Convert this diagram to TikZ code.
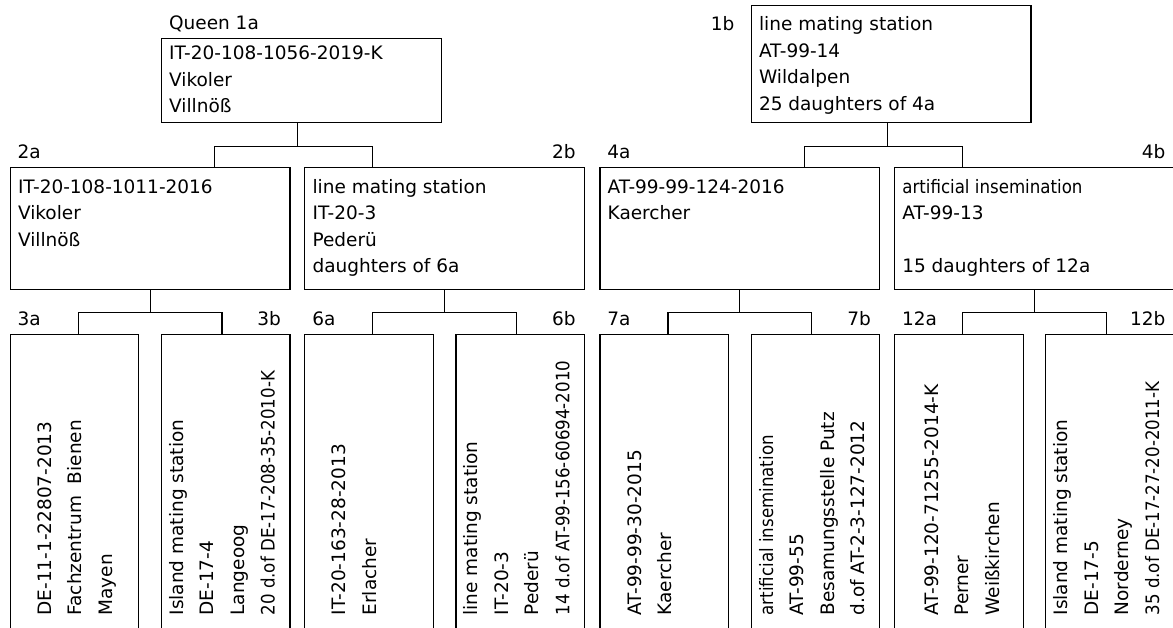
\documentclass[tikz,border=0pt]{standalone}
\usepackage{fontspec}
\setmainfont{DejaVu Sans}
\newfontfamily\narrowfont[FakeStretch=0.9]{DejaVu Sans}
\begin{document}
\begin{tikzpicture}[x=1pt,y=-1pt,line width=1.2pt,font=\fontsize{18.5}{26.5}\selectfont,
	wide/.style={draw,inner sep=0pt,anchor=north west,minimum width=279.8pt,minimum height=121.4pt},
	tall/.style={draw,inner sep=0pt,anchor=north west,minimum width=128.6pt,minimum height=306pt},
	txt/.style={inner sep=0pt,anchor=base west,align=left},
	vtxt/.style={txt,rotate=90,font=\fontsize{18.5}{30.5}\selectfont},
	tagl/.style={inner sep=0pt,anchor=base west},
	tagr/.style={inner sep=0pt,anchor=base east}]
	\useasboundingbox (0,0) rectangle (1173,628);
	% Kästen
	\foreach \n/\x/\y/\h in {1a/160.7/37.7/84.6, 1b/750.6/5/116.7}
		\node[wide,minimum height=\h] (n\n) at (\x,\y) {};
	\foreach \n/\x in {2a/9.6, 2b/304.2, 4a/599.3, 4b/893.9}
		\node[wide] (n\n) at (\x,167.3) {};
	\foreach \n/\x in {3a/9.6, 3b/160.7, 6a/304.2, 6b/455.4, 7a/599.3, 7b/750.6, 12a/893.9, 12b/1045.2}
		\node[tall] (n\n) at (\x,334) {};
	% Bezeichnungen
	\node[tagl] (l1a) at ([shift={(7.8,-8.2)}]n1a.north west) {Queen 1a};
	\node[tagr] (l1b) at ([shift={(-15.6,26)}]n1b.north west) {1b};
	\foreach \n in {2a,4a,3a,6a,7a,12a}
		\node[tagl] (l\n) at ([shift={(7.5,-8.6)}]n\n.north west) {\n};
	\foreach \n in {2b,4b,3b,6b,7b,12b}
		\node[tagr] (l\n) at ([shift={(-9,-8.6)}]n\n.north east) {\n};
	% Texte oben (Anker an der letzten Zeile)
	\node[txt] (t1a) at ([shift={(7.8,75)}]n1a.north west) {IT-20-108-1056-2019-K\\Vikoler\\Villnöß};
	\node[txt] (t1b) at ([shift={(7.8,105.5)}]n1b.north west) {line mating station\\AT-99-14\\Wildalpen\\25 daughters of 4a};
	\node[txt] (t2a) at ([shift={(7.8,79)}]n2a.north west) {IT-20-108-1011-2016\\Vikoler\\Villnöß};
	\node[txt] (t2b) at ([shift={(7.8,105.5)}]n2b.north west) {line mating station\\IT-20-3\\Pederü\\daughters of 6a};
	\node[txt] (t4a) at ([shift={(7.8,52.5)}]n4a.north west) {AT-99-99-124-2016\\Kaercher};
	\node[txt] (t4b) at ([shift={(7.8,105.5)}]n4b.north west) {{\narrowfont artificial insemination}\\AT-99-13\\[26.5pt]15 daughters of 12a};
	% Texte unten (gedreht)
	\node[vtxt] (t3a) at ([shift={(102.7,282)}]n3a.north west) {DE-11-1-22807-2013\\Fachzentrum~~Bienen\\Mayen};
	\node[vtxt] (t3b) at ([shift={(113.9,282)}]n3b.north west) {Island mating station\\DE-17-4\\Langeoog\\{\narrowfont 20 d.of DE-17-208-35-2010-K}};
	\node[vtxt] (t6a) at ([shift={(72.2,282)}]n6a.north west) {IT-20-163-28-2013\\Erlacher};
	\node[vtxt] (t6b) at ([shift={(113.9,282)}]n6b.north west) {line mating station\\IT-20-3\\Pederü\\{\narrowfont 14 d.of AT-99-156-60694-2010}};
	\node[vtxt] (t7a) at ([shift={(72.2,282)}]n7a.north west) {AT-99-99-30-2015\\Kaercher};
	\node[vtxt] (t7b) at ([shift={(113.9,282)}]n7b.north west) {{\narrowfont artificial insemination}\\AT-99-55\\Besamungsstelle Putz\\d.of AT-2-3-127-2012};
	\node[vtxt] (t12a) at ([shift={(105.5,282)}]n12a.north west) {AT-99-120-71255-2014-K\\Perner\\Weißkirchen};
	\node[vtxt] (t12b) at ([shift={(113.9,282)}]n12b.north west) {Island mating station\\DE-17-5\\Norderney\\{\narrowfont 35 d.of DE-17-27-20-2011-K}};
	% Verbindungen
	\draw ([xshift=-4]n1a.south) -- ++(0,22.7) coordinate (j1a);
	\draw ([xshift=64.5]n2a.north) |- (j1a) -| ([xshift=-72]n2b.north);
	\draw ([xshift=-4]n1b.south) -- ++(0,23.3) coordinate (j1b);
	\draw ([xshift=64.5]n4a.north) |- (j1b) -| ([xshift=-72]n4b.north);
	\foreach \p/\c/\d in {2a/3a/3b, 2b/6a/6b, 4a/7a/7b, 4b/12a/12b}{
		\draw (n\p.south) -- ++(0,23) coordinate (j\p);
		\draw ([xshift=3.7]n\c.north) |- (j\p) -| ([xshift=-3.7]n\d.north);
	}
\end{tikzpicture}
\end{document}
